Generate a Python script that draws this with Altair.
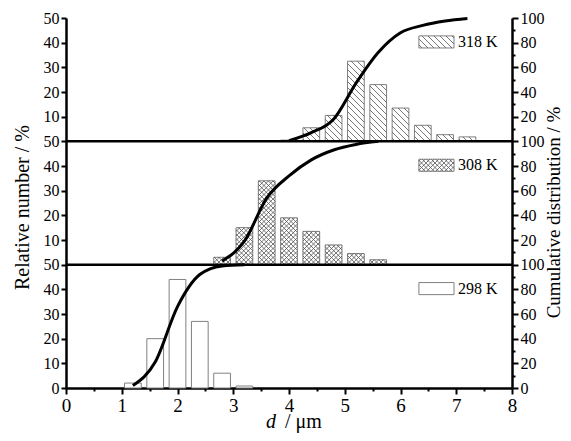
import math
import altair as alt
import pandas as pd

# ---------------- data ----------------
SERIES = ["318 K", "308 K", "298 K"]

D_318 = [4.0, 4.4, 4.8, 5.2, 5.6, 6.0, 6.4, 6.8, 7.2]
N_318 = [0.5, 5.5, 10.5, 32.5, 23.0, 13.5, 6.5, 2.7, 1.8]
C_318 = [0.5, 7.0, 18.0, 47.0, 72.0, 88.0, 94.0, 97.5, 99.5]

D_308 = [2.8, 3.2, 3.6, 4.0, 4.4, 4.8, 5.2, 5.6]
N_308 = [3.0, 15.0, 34.0, 19.0, 13.5, 8.0, 4.5, 2.0]
C_308 = [3.0, 19.0, 54.0, 72.0, 85.0, 93.0, 97.5, 100.0]

D_298 = [1.2, 1.6, 2.0, 2.4, 2.8, 3.2]
N_298 = [2.0, 20.0, 44.0, 27.0, 6.0, 0.8]
C_298 = [2.0, 21.0, 66.0, 92.0, 99.0, 100.0]

X_TICKS = [i * 0.5 for i in range(17)]
LEFT_TICKS = list(range(0, 151, 10))
RIGHT_TICKS = list(range(0, 301, 10))
SEPARATORS = [50, 100]

# ---------------- layout / style ----------------
W, H = 446, 370
X_MAX = 8.0
PANEL = 50.0          # left-axis units per panel
CUM_PANEL = 100.0     # right-axis units per panel
BAR_W = 0.3
PX = W / X_MAX
PY = H / (3 * PANEL)
FONT = "Liberation Serif"
HATCH = {"318 K": (["\\"], 6.0), "308 K": (["\\", "/"], 4.5), "298 K": ([], 6.0)}
PANEL_INDEX = {"318 K": 2, "308 K": 1, "298 K": 0}
LEG_X0, LEG_X1, LEG_TX = 6.33, 6.96, 7.03
LEG_DROP, LEG_HALF = 9.7, 2.45

series_data = {
    "318 K": (D_318, N_318, C_318),
    "308 K": (D_308, N_308, C_308),
    "298 K": (D_298, N_298, C_298),
}


def hatch_segments(x0, x1, y0, y1, dirs, step):
    X0, X1, Y0, Y1 = x0 * PX, x1 * PX, y0 * PY, y1 * PY
    segs = []
    for dr in dirs:
        if dr == "\\":
            for k in range(math.ceil((X0 + Y0) / step), math.floor((X1 + Y1) / step) + 1):
                c = k * step
                xa, xb = max(X0, c - Y1), min(X1, c - Y0)
                if xb - xa > 0.4:
                    segs.append((xa / PX, (c - xa) / PY, xb / PX, (c - xb) / PY))
        else:
            for k in range(math.ceil((Y0 - X1) / step), math.floor((Y1 - X0) / step) + 1):
                c = k * step
                xa, xb = max(X0, Y0 - c), min(X1, Y1 - c)
                if xb - xa > 0.4:
                    segs.append((xa / PX, (xa + c) / PY, xb / PX, (xb + c) / PY))
    return segs


bar_rows, hatch_rows, cum_rows, leg_rows = [], [], [], []
for s in SERIES:
    d, n, c = series_data[s]
    k = PANEL_INDEX[s]
    dirs, step = HATCH[s]
    for di, ni, ci in zip(d, n, c):
        x0, x1 = di - BAR_W / 2, di + BAR_W / 2
        y0, y1 = k * PANEL, k * PANEL + ni
        bar_rows.append({"series": s, "x0": x0, "x1": x1, "y0": y0, "y1": y1})
        for seg in hatch_segments(x0, x1, y0, y1, dirs, step):
            hatch_rows.append({"series": s, "hx0": seg[0], "hy0": seg[1], "hx1": seg[2], "hy1": seg[3]})
        cum_rows.append({"series": s, "d": di, "c": k * CUM_PANEL + ci})
    top = (k + 1) * PANEL
    cy = top - LEG_DROP
    leg_rows.append({"series": s, "lx0": LEG_X0, "lx1": LEG_X1, "ly0": cy - LEG_HALF,
                     "ly1": cy + LEG_HALF, "tx": LEG_TX, "ty": cy})
    for seg in hatch_segments(LEG_X0, LEG_X1, cy - LEG_HALF, cy + LEG_HALF, dirs, step):
        hatch_rows.append({"series": s, "hx0": seg[0], "hy0": seg[1], "hx1": seg[2], "hy1": seg[3]})

bars = pd.DataFrame(bar_rows)
hatch = pd.DataFrame(hatch_rows)
cum = pd.DataFrame(cum_rows)
leg = pd.DataFrame(leg_rows)
seps = pd.DataFrame({"s": SEPARATORS})

# ---------------- scales & axes ----------------
xs = alt.Scale(domain=[0, X_MAX], nice=False, zero=False)
ys = alt.Scale(domain=[0, 3 * PANEL], nice=False)
rs = alt.Scale(domain=[0, 3 * CUM_PANEL], nice=False)

X_AXIS = alt.Axis(
    values=X_TICKS, title=None, grid=False,
    labelExpr="datum.value % 1 == 0 ? format(datum.value, 'd') : ''",
    domainColor="black", domainWidth=2.5, tickColor="black", tickWidth=2,
    tickSize={"condition": {"test": "datum.value % 1 == 0", "value": 6}, "value": 3},
    labelFont=FONT, labelFontSize=19, labelColor="black", labelPadding=2,
    labelOverlap=False, labelFlush=False,
)
LEFT_AXIS = alt.Axis(
    values=LEFT_TICKS, title="Relative number / %", grid=False,
    labelExpr="datum.value == 0 ? '0' : (datum.value % 50 == 0 ? '50' : format(datum.value % 50, 'd'))",
    domainColor="black", domainWidth=2.5, tickColor="black", tickWidth=2, tickSize=5,
    labelFont=FONT, labelFontSize=16, labelColor="black", labelPadding=2, labelOverlap=False,
    titleFont=FONT, titleFontSize=20, titleFontWeight="normal", titleColor="black",
    titleAngle=270, titleBaseline="bottom", titlePadding=11, titleY=189,
)
RIGHT_AXIS = alt.Axis(
    orient="right", values=RIGHT_TICKS, title="Cumulative distribution / %", grid=False,
    labelExpr="datum.value % 20 != 0 ? '' : (datum.value == 0 ? '0' : (datum.value % 100 == 0 ? '100' : format(datum.value % 100, 'd')))",
    domainColor="black", domainWidth=2.5, tickColor="black", tickWidth=2,
    tickSize={"condition": {"test": "datum.value % 20 == 0", "value": 6}, "value": 3},
    labelFont=FONT, labelFontSize=16, labelColor="black", labelPadding=2, labelOverlap=False,
    titleFont=FONT, titleFontSize=19, titleFontWeight="normal", titleColor="black",
    titleAngle=270, titleBaseline="top", titlePadding=0, titleY=194,
)

# ---------------- layers ----------------
bar_layer = alt.Chart(bars).mark_rect(fill="white", stroke="#808080", strokeWidth=1).encode(
    x=alt.X("x0:Q", scale=xs, axis=X_AXIS), x2="x1:Q",
    y=alt.Y("y0:Q", scale=ys, axis=LEFT_AXIS), y2="y1:Q",
)
hatch_layer = alt.Chart(hatch).mark_rule(color="#555555", strokeWidth=0.8).encode(
    x=alt.X("hx0:Q", scale=xs, axis=X_AXIS), x2="hx1:Q",
    y=alt.Y("hy0:Q", scale=ys, axis=LEFT_AXIS), y2="hy1:Q",
)
sep_layer = alt.Chart(seps).mark_rule(color="black", strokeWidth=2.5).encode(
    y=alt.Y("s:Q", scale=ys, axis=LEFT_AXIS),
)
leg_box = alt.Chart(leg).mark_rect(fill="white", stroke="#808080", strokeWidth=1).encode(
    x=alt.X("lx0:Q", scale=xs, axis=X_AXIS), x2="lx1:Q",
    y=alt.Y("ly0:Q", scale=ys, axis=LEFT_AXIS), y2="ly1:Q",
)
leg_text = alt.Chart(leg).mark_text(
    align="left", baseline="middle", font=FONT, fontSize=16, color="black"
).encode(
    x=alt.X("tx:Q", scale=xs, axis=X_AXIS),
    y=alt.Y("ty:Q", scale=ys, axis=LEFT_AXIS),
    text="series:N",
)

left = alt.layer(bar_layer, leg_box, hatch_layer, sep_layer, leg_text)

cum_layer = alt.Chart(cum).mark_line(color="black", strokeWidth=3, interpolate="monotone").encode(
    x=alt.X("d:Q", scale=xs, axis=X_AXIS),
    y=alt.Y("c:Q", scale=rs, axis=RIGHT_AXIS),
    detail="series:N",
)

xt = pd.DataFrame({"t": ["d"], "u": ["/ μm"]})
xtitle_d = alt.Chart(xt).mark_text(
    align="right", baseline="alphabetic", font=FONT, fontSize=20, fontStyle="italic", color="black"
).encode(x=alt.value(210), y=alt.value(410), text="t:N")
xtitle_u = alt.Chart(xt).mark_text(
    align="left", baseline="alphabetic", font=FONT, fontSize=20, color="black"
).encode(x=alt.value(219), y=alt.value(410), text="u:N")

chart = (
    alt.layer(left, cum_layer, xtitle_d, xtitle_u)
    .resolve_scale(y="independent")
    .properties(
        width=W, height=H,
        autosize=alt.AutoSizeParams(type="none"),
        padding={"left": 58, "top": 10, "right": 51, "bottom": 45},
        background="white",
    )
    .configure_view(stroke=None)
)

chart.save("out.html", embed_options={"renderer": "svg", "actions": False})
